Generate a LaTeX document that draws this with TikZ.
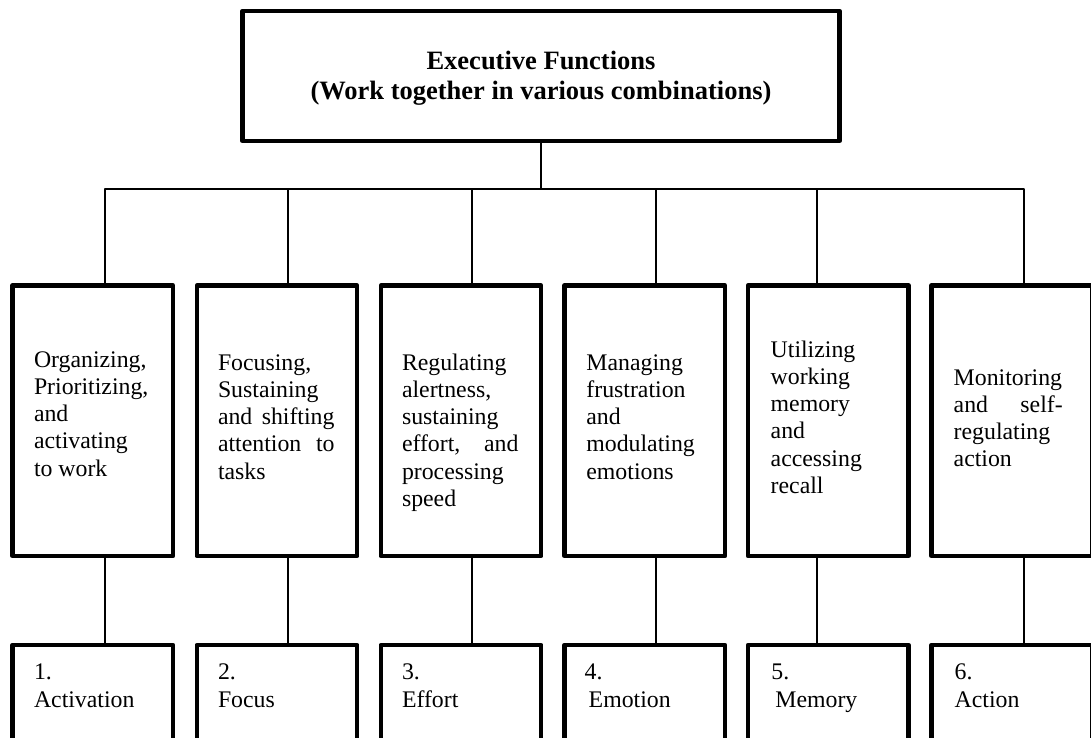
\documentclass[tikz,border=0pt]{standalone}
\usepackage{fontspec}
\setmainfont{Liberation Serif}
% stack of lines with a fixed baseline distance; the box baseline is the first line
\newcommand\stack[2][27.3pt]{\vtop{\baselineskip=#1\relax\lineskiplimit=-100pt #2}}
% a line spread to a given width
\newcommand\jline[3]{\hbox to #1{#2\hfill #3}}
% a line centred on the anchor
\newcommand\ctrline[1]{\hbox to 0pt{\hss#1\hss}}
\tikzset{
  box/.style={draw, line width=4.3pt, line join=round, rectangle, inner sep=0pt},
  colbox/.style={box, minimum width=160.5pt, minimum height=270.5pt},
  numbox/.style={box, minimum width=160.5pt, minimum height=125pt},
  link/.style={line width=2.2pt, line join=round},
  txt/.style={anchor=base west, inner sep=0pt, font=\fontsize{23.8}{27.3}\selectfont},
  titletxt/.style={anchor=base, inner sep=0pt, font=\bfseries\fontsize{26.5}{30}\selectfont}
}
\begin{document}
\begin{tikzpicture}[x=1pt,y=-1pt]
\useasboundingbox (0,0) rectangle (1091,738);
\clip (0,0) rectangle (1091,738);

% heading box
\node[box, minimum width=597pt, minimum height=130pt] (top) at (541,76) {};
\node[titletxt] (title) at (541,70)
  {\stack[30pt]{\ctrline{Executive Functions}\ctrline{(Work together in various combinations)}}};

% function boxes
\node[colbox] (c1) at (92.75,420.75) {};
\node[colbox] (c2) at (277,420.75) {};
\node[colbox] (c3) at (461,420.75) {};
\node[colbox] (c4) at (644.75,420.75) {};
\node[colbox] (c5) at (828.25,420.75) {};
\node[colbox] (c6) at (1011.75,420.75) {};

% numbered boxes
\node[numbox] (d1) at (92.75,707.5) {};
\node[numbox] (d2) at (277,707.5) {};
\node[numbox] (d3) at (461,707.5) {};
\node[numbox] (d4) at (644.75,707.5) {};
\node[numbox] (d5) at (828.25,707.5) {};
\node[numbox] (d6) at (1011.75,707.5) {};

% junctions on the bus
\coordinate (hub) at (541,189);
\coordinate (j1) at (105,189);
\coordinate (j2) at (288,189);
\coordinate (j3) at (472,189);
\coordinate (j4) at (656,189);
\coordinate (j5) at (817,189);
\coordinate (j6) at (1024,189);

% connectors
\draw[link] (top.south) -- (hub);
\draw[link] (j1 |- c1.north) -- (j1) -- (j6) -- (j6 |- c6.north);
\foreach \i in {2,3,4,5}{
  \draw[link] (j\i) -- (j\i |- c\i.north);
}
\foreach \i in {1,...,6}{
  \draw[link] (j\i |- c\i.south) -- (j\i |- d\i.north);
}

% function texts
\node[txt] (t1) at (33.8,367) {\stack{\hbox{Organizing,}\hbox{Prioritizing,}\hbox{and}\hbox{activating}\hbox{to work}}};
\node[txt] (t2) at (217.8,370) {\stack{\hbox{Focusing,}\hbox{Sustaining}\jline{116.5pt}{and}{shifting}\jline{116.5pt}{attention}{to}\hbox{tasks}}};
\node[txt] (t3) at (401.8,370) {\stack{\hbox{Regulating}\hbox{alertness,}\hbox{sustaining}\jline{116.5pt}{effort,}{and}\hbox{processing}\hbox{speed}}};
\node[txt] (t4) at (586.2,370) {\stack{\hbox{Managing}\hbox{frustration}\hbox{and}\hbox{modulating}\hbox{emotions}}};
\node[txt] (t5) at (770.5,357) {\stack{\hbox{Utilizing}\hbox{working}\hbox{memory}\hbox{and}\hbox{accessing}\hbox{recall}}};
\node[txt] (t6) at (953.5,385) {\stack{\hbox{Monitoring}\jline{109pt}{and}{self-}\hbox{regulating}\hbox{action}}};

% numbered labels
\node[txt] (n1) at (33.8,679) {\stack[28pt]{\hbox{1.}\hbox{Activation}}};
\node[txt] (n2) at (217.8,679) {\stack[28pt]{\hbox{2.}\hbox{Focus}}};
\node[txt] (n3) at (401.8,679) {\stack[28pt]{\hbox{3.}\hbox{Effort}}};
\node[txt] (n4) at (584.5,679) {\stack[28pt]{\hbox{4.}\hbox{\hspace{4pt}Emotion}}};
\node[txt] (n5) at (771.2,679) {\stack[28pt]{\hbox{5.}\hbox{\hspace{4pt}Memory}}};
\node[txt] (n6) at (954.5,679) {\stack[28pt]{\hbox{6.}\hbox{Action}}};
\end{tikzpicture}
\end{document}
